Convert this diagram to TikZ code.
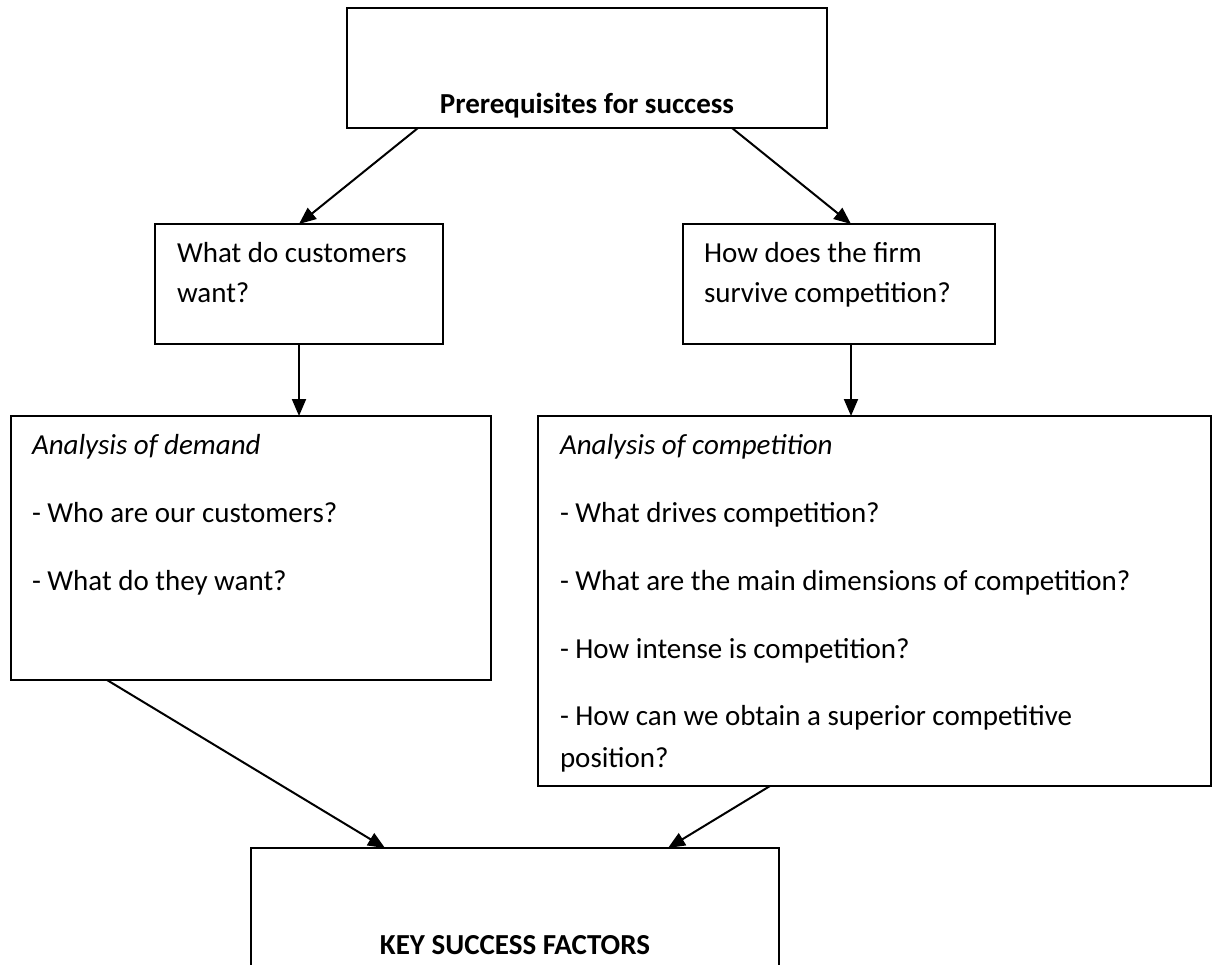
\documentclass[tikz,border=0pt]{standalone}
\usepackage{fontspec}
\setmainfont{Carlito}
\usetikzlibrary{arrows.meta,calc}

\tikzset{
  box/.style={draw=black, line width=2bp, rectangle, inner sep=0pt, outer sep=0pt, fill=white},
  txt/.style={anchor=base west, inner sep=0pt, outer sep=0pt, font=\fontsize{29.1pt}{40pt}\selectfont},
  ctxt/.style={txt, anchor=base, font=\fontsize{29.1pt}{40pt}\selectfont\bfseries},
  itxt/.style={txt, font=\fontsize{29.1pt}{40pt}\selectfont\itshape},
  arr/.style={line width=2bp, -{Triangle[length=17bp,width=14bp]}}
}

\begin{document}
\begin{tikzpicture}[x=1bp, y=-1bp]
  \useasboundingbox (0,0) rectangle (1219,965);
  \clip (0,0) rectangle (1219,965);

  % boxes
  \node[box, minimum width=480bp, minimum height=120bp] (top)  at (587,68) {};
  \node[box, minimum width=288bp, minimum height=120bp] (q1)   at (299,284) {};
  \node[box, minimum width=312bp, minimum height=120bp] (q2)   at (839,284) {};
  \node[box, minimum width=480bp, minimum height=264bp] (dem)  at (251,548) {};
  \node[box, minimum width=673bp, minimum height=370bp] (comp) at (874.5,601) {};
  \node[box, minimum width=528bp, minimum height=304bp] (ksf)  at (515,1000) {};

  % texts
  \node[ctxt] (ttop) at (587,113) {Prerequisites for success};

  \node[txt] (q1a) at (177,262) {What do customers};
  \node[txt] (q1b) at (177,302) {want?};

  \node[txt] (q2a) at (704,262) {How does the firm};
  \node[txt] (q2b) at (704,302) {survive competition?};

  \node[itxt] (d0) at (32,454) {Analysis of demand};
  \node[txt]  (d1) at (32,522) {- Who are our customers?};
  \node[txt]  (d2) at (32,590) {- What do they want?};

  \node[itxt] (c0) at (560,454) {Analysis of competition};
  \node[txt]  (c1) at (560,522) {- What drives competition?};
  \node[txt]  (c2) at (560,590) {- What are the main dimensions of competition?};
  \node[txt]  (c3) at (560,658) {- How intense is competition?};
  \node[txt]  (c4) at (560,725) {- How can we obtain a superior competitive};
  \node[txt]  (c5) at (560,767) {position?};

  \node[ctxt] (tksf) at (515,954) {KEY SUCCESS FACTORS};

  % connectors
  \coordinate (q2in)  at ($(q2.north)+(12,0)$);
  \coordinate (q2out) at ($(q2.south)+(12,0)$);

  \draw[arr] ($(top.south west)+(71,0)$) -- (q1.north);
  \draw[arr] ($(top.south east)+(-95,0)$) -- (q2in);
  \draw[arr] (q1.south) -- (q1.south |- dem.north);
  \draw[arr] (q2out) -- (q2out |- comp.north);
  \draw[arr] ($(dem.south west)+(96,0)$) -- ($(ksf.north west)+(134,0)$);
  \draw[arr] ($(comp.south west)+(232,0)$) -- ($(ksf.north west)+(417,0)$);
\end{tikzpicture}
\end{document}
